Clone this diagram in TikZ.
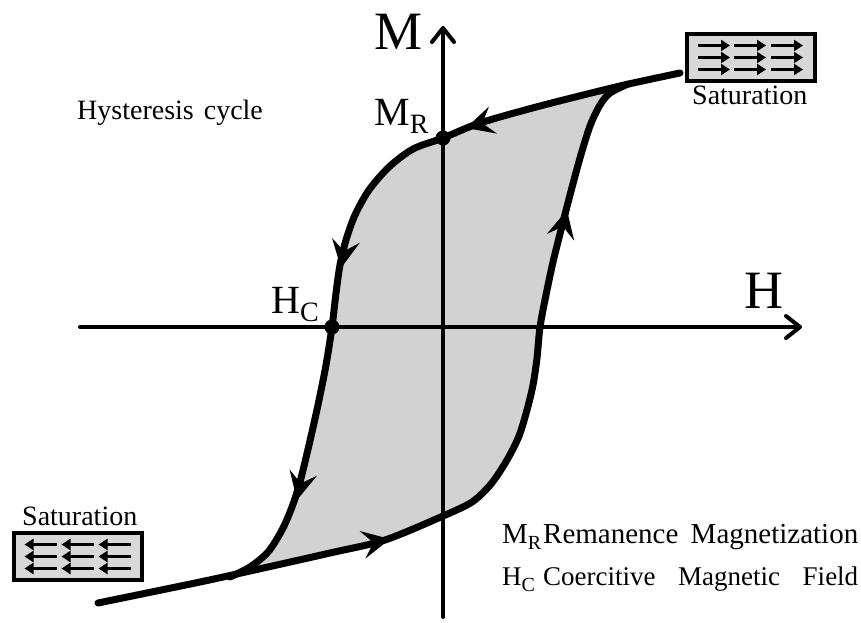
\documentclass[tikz,border=0pt]{standalone}
\usepackage{fontspec}
\setmainfont{Liberation Serif}
\usetikzlibrary{arrows.meta}
\definecolor{loopgray}{RGB}{210,210,210}
\definecolor{boxgray}{RGB}{216,216,216}
\tikzset{
  axis/.style={line width=4pt,line cap=round,-{Straight Barb[length=14pt,width=22pt,round]}},
  curve/.style={line width=7pt,line join=round,line cap=round},
  loop arrow/.style={line width=2pt,-{Stealth[length=28pt,width=28pt,inset=11pt]}},
  dot/.style={circle,fill=black,inner sep=0pt,minimum size=15pt},
  lbl/.style={anchor=base west,inner sep=0pt,font=\fontsize{#1}{#1}\selectfont},
  lbl/.default=28,
  satbox/.style={draw,line width=4pt,fill=boxgray,minimum width=128pt,minimum height=47pt,inner sep=0pt},
  satarrow/.style={line width=3.5pt,-{Triangle[length=9pt,width=11pt]}},
}

\begin{document}
\begin{tikzpicture}[x=1pt,y=-1pt]
  \useasboundingbox (0,0) rectangle (861,623);
  % loop area
  \fill[loopgray] plot[smooth] coordinates {(620,86) (540,106) (480,123) (443,138) (413,149) (389,167) (369,190) (355,215) (346,240) (340,265) (336,293) (332,327) (326,365) (318,405) (309,445) (300,482) (292,507) (282,530) (268,552) (250,567) (230,577)}
    -- plot[smooth] coordinates {(250,571) (330,553) (385,540) (443,516) (472,502) (491,484) (507,460) (519,436) (527,410) (533,385) (537,358) (540,327) (546,295) (553,262) (561,230) (570,195) (580,158) (590,126) (600,105) (610,93) (628,84)} -- cycle;
  % axes
  \coordinate (hl) at (80,327);
  \coordinate (hr) at (802,327);
  \coordinate (mb) at (443,617);
  \coordinate (mt) at (443,26);
  \draw[axis] (hl) -- (hr);
  \draw[axis] (mb) -- (mt);
  % branches
  \draw[curve] plot[smooth] coordinates {(680,73) (620,86) (540,106) (480,123) (443,138) (413,149) (389,167) (369,190) (355,215) (346,240) (340,265) (336,293) (332,327) (326,365) (318,405) (309,445) (300,482) (292,507) (282,530) (268,552) (250,567) (230,577)};
  \draw[curve] plot[smooth] coordinates {(98,603) (200,582) (250,571) (330,553) (385,540) (443,516) (472,502) (491,484) (507,460) (519,436) (527,410) (533,385) (537,358) (540,327) (546,295) (553,262) (561,230) (570,195) (580,158) (590,126) (600,105) (610,93) (628,84)};
  % direction marks
  \draw[loop arrow] (500,118) -- (466,128);
  \draw[loop arrow] (347,234) -- (341,268);
  \draw[loop arrow] (305,465) -- (297,500);
  \draw[loop arrow] (352,547) -- (390,539);
  \draw[loop arrow] (559,243) -- (567,210);
  \node[dot] (mr) at (443,138) {};
  \node[dot] (hc) at (332,327) {};
  % labels
  \node[lbl=54] (mlab) at (374,50) {M};
  \node[lbl=54] (hlab) at (744,308) {H};
  \node[lbl=40] (mrlab) at (374,125) {M\raisebox{-8pt}{\fontsize{28}{28}\selectfont R}};
  \node[lbl=40] (hclab) at (271,313) {H\raisebox{-8pt}{\fontsize{28}{28}\selectfont C}};
  \node[lbl] (title) at (77,119) {Hysteresis\hspace{3pt} cycle};
  % saturation boxes
  \node[satbox] (sattop) at (751,57.5) {};
  \node[satbox] (satbot) at (77.5,556.5) {};
  \node[lbl] (sattoptext) at (692,105) {Saturation};
  \node[lbl] (satbottext) at (22,525) {Saturation};
  \begin{scope}[shift={(sattop)}]
    \foreach \r in {-12,0,12} \foreach \c in {-37,-1,36} \draw[satarrow] (\c-16,\r) -- (\c+16,\r);
  \end{scope}
  \begin{scope}[shift={(satbot)}]
    \foreach \r in {-12,0,12} \foreach \c in {-37,0,37} \draw[satarrow] (\c+16,\r) -- (\c-16,\r);
  \end{scope}
  % legend
  \node[lbl=29] (legmr) at (502,543) {\makebox[41pt][l]{M\raisebox{-6pt}{\fontsize{20}{20}\selectfont R}}\makebox[315pt][s]{Remanence Magnetization}};
  \node[lbl=27] (leghc) at (502,585) {\makebox[41pt][l]{H\raisebox{-6pt}{\fontsize{20}{20}\selectfont C}}\makebox[315pt][s]{Coercitive Magnetic Field}};
\end{tikzpicture}
\end{document}
